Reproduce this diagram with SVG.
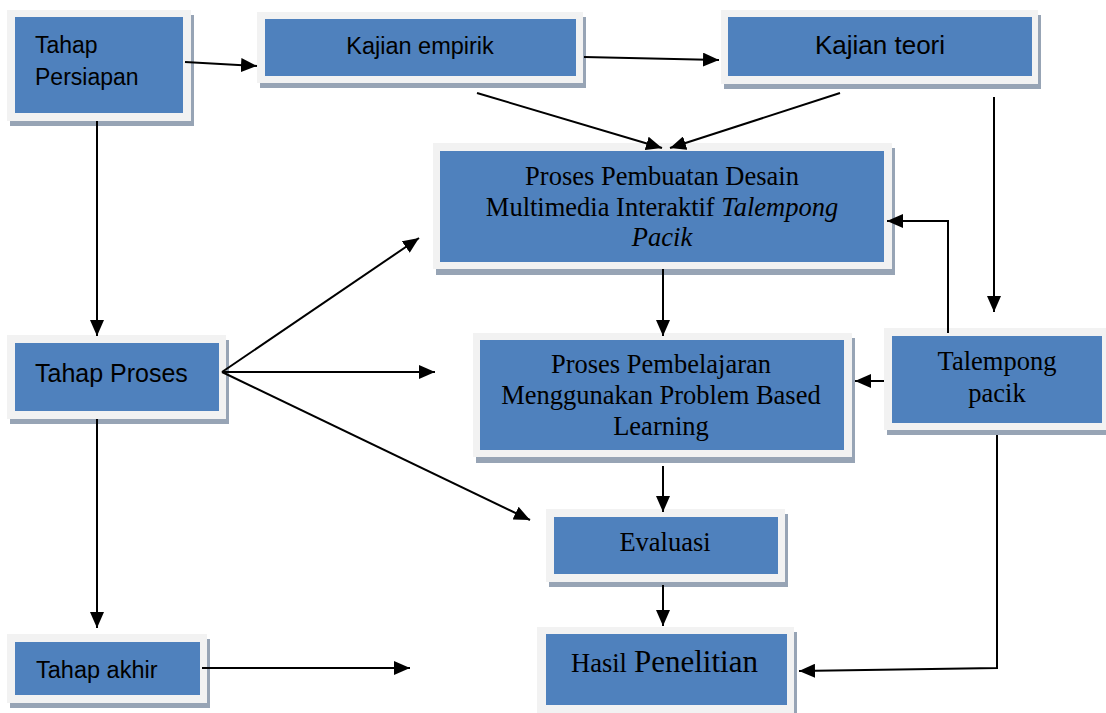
<svg xmlns="http://www.w3.org/2000/svg" width="1106" height="713" viewBox="0 0 1106 713">
  <style>
    .shadow { fill: #97a4b5; }
    .frame { fill: #f2f2f2; }
    .fill { fill: #4f81bd; }
    .sans { font-family: "Liberation Sans", Arial, sans-serif; fill: #000; }
    .serif { font-family: "Liberation Serif", "Times New Roman", serif; fill: #000; font-size: 26.5px; }
    .link { stroke: #000; stroke-width: 2; fill: none; marker-end: url(#arrow); }
  </style>
  <defs>
    <marker id="arrow" viewBox="0 0 16 14" refX="16" refY="7" markerWidth="16" markerHeight="14" markerUnits="userSpaceOnUse" orient="auto">
      <path d="M0,0 L16,7 L0,14 z" fill="#000"/>
    </marker>
  </defs>
  <rect width="1106" height="713" fill="#fff"/>

  <g id="tahap-persiapan">
    <rect class="shadow" x="10" y="15" width="184" height="111"/>
    <rect class="frame" x="7" y="10" width="184" height="111"/>
    <rect class="fill" x="15" y="17" width="168" height="96"/>
    <text class="sans" font-size="23" x="35" y="53">Tahap</text>
    <text class="sans" font-size="23" x="35" y="85">Persiapan</text>
  </g>

  <g id="kajian-empirik">
    <rect class="shadow" x="260" y="17" width="326" height="71"/>
    <rect class="frame" x="257" y="12" width="326" height="71"/>
    <rect class="fill" x="265" y="19" width="311" height="57"/>
    <text class="sans" font-size="23.5" x="420" y="54" text-anchor="middle">Kajian empirik</text>
  </g>

  <g id="kajian-teori">
    <rect class="shadow" x="724" y="15" width="317" height="74"/>
    <rect class="frame" x="721" y="10" width="317" height="74"/>
    <rect class="fill" x="728" y="17" width="304" height="59"/>
    <text class="sans" font-size="26" x="880" y="54" text-anchor="middle">Kajian teori</text>
  </g>

  <g id="proses-pembuatan">
    <rect class="shadow" x="436" y="148" width="459" height="127"/>
    <rect class="frame" x="433" y="143" width="459" height="126"/>
    <rect class="fill" x="440" y="151" width="444" height="111"/>
    <text class="serif" x="662" y="185" text-anchor="middle">Proses Pembuatan Desain</text>
    <text class="serif" x="662" y="216" text-anchor="middle">Multimedia Interaktif <tspan font-style="italic">Talempong</tspan></text>
    <text class="serif" x="662" y="246" text-anchor="middle" font-style="italic">Pacik</text>
  </g>

  <g id="proses-pembelajaran">
    <rect class="shadow" x="476" y="338" width="379" height="125"/>
    <rect class="frame" x="473" y="333" width="379" height="124"/>
    <rect class="fill" x="480" y="340" width="364" height="110"/>
    <text class="serif" x="661" y="373" text-anchor="middle">Proses Pembelajaran</text>
    <text class="serif" x="661" y="404" text-anchor="middle">Menggunakan Problem Based</text>
    <text class="serif" x="661" y="435" text-anchor="middle">Learning</text>
  </g>

  <g id="tahap-proses">
    <rect class="shadow" x="10" y="340" width="219" height="84"/>
    <rect class="frame" x="7" y="335" width="219" height="84"/>
    <rect class="fill" x="15" y="343" width="204" height="68"/>
    <text class="sans" font-size="25" x="35" y="382">Tahap Proses</text>
  </g>

  <g id="talempong-pacik">
    <rect class="shadow" x="887" y="333" width="222" height="102"/>
    <rect class="frame" x="884" y="328" width="222" height="102"/>
    <rect class="fill" x="892" y="336" width="210" height="87"/>
    <text class="serif" font-size="26" x="997" y="370" text-anchor="middle">Talempong</text>
    <text class="serif" font-size="26" x="997" y="402" text-anchor="middle">pacik</text>
  </g>

  <g id="evaluasi">
    <rect class="shadow" x="549" y="514" width="239" height="73"/>
    <rect class="frame" x="546" y="509" width="239" height="73"/>
    <rect class="fill" x="554" y="517" width="224" height="57"/>
    <text class="serif" font-size="26" x="665" y="551" text-anchor="middle">Evaluasi</text>
  </g>

  <g id="hasil-penelitian">
    <rect class="shadow" x="540" y="632" width="257" height="90"/>
    <rect class="frame" x="537" y="627" width="257" height="90"/>
    <rect class="fill" x="546" y="634" width="241" height="71"/>
    <text class="serif" x="571" y="672" font-size="23">Hasil<tspan x="634" font-size="31">Penelitian</tspan></text>
  </g>

  <g id="tahap-akhir">
    <rect class="shadow" x="10" y="639" width="200" height="69"/>
    <rect class="frame" x="7" y="634" width="200" height="69"/>
    <rect class="fill" x="15" y="642" width="185" height="53"/>
    <text class="sans" font-size="23.5" x="36" y="678">Tahap akhir</text>
  </g>

  <g id="connectors">
    <path class="link" d="M185,62 L257,66"/>
    <path class="link" d="M584,57 L719,60"/>
    <path class="link" d="M477,93 L662,148"/>
    <path class="link" d="M840,93 L670,148"/>
    <path class="link" d="M994,97 L994,312"/>
    <path class="link" d="M948,333 L948,221 L887,221"/>
    <path class="link" d="M97,121 L97,336"/>
    <path class="link" d="M222,372 L419,238"/>
    <path class="link" d="M222,372 L435,372"/>
    <path class="link" d="M222,372 L530,520"/>
    <path class="link" d="M97,419 L97,628"/>
    <path class="link" d="M663,269 L663,336"/>
    <path class="link" d="M884,381 L855,381"/>
    <path class="link" d="M663,466 L663,512"/>
    <path class="link" d="M663,585 L663,626"/>
    <path class="link" d="M997,435 L997,668 L799,671"/>
    <path class="link" d="M202,668 L410,668"/>
  </g>
</svg>
